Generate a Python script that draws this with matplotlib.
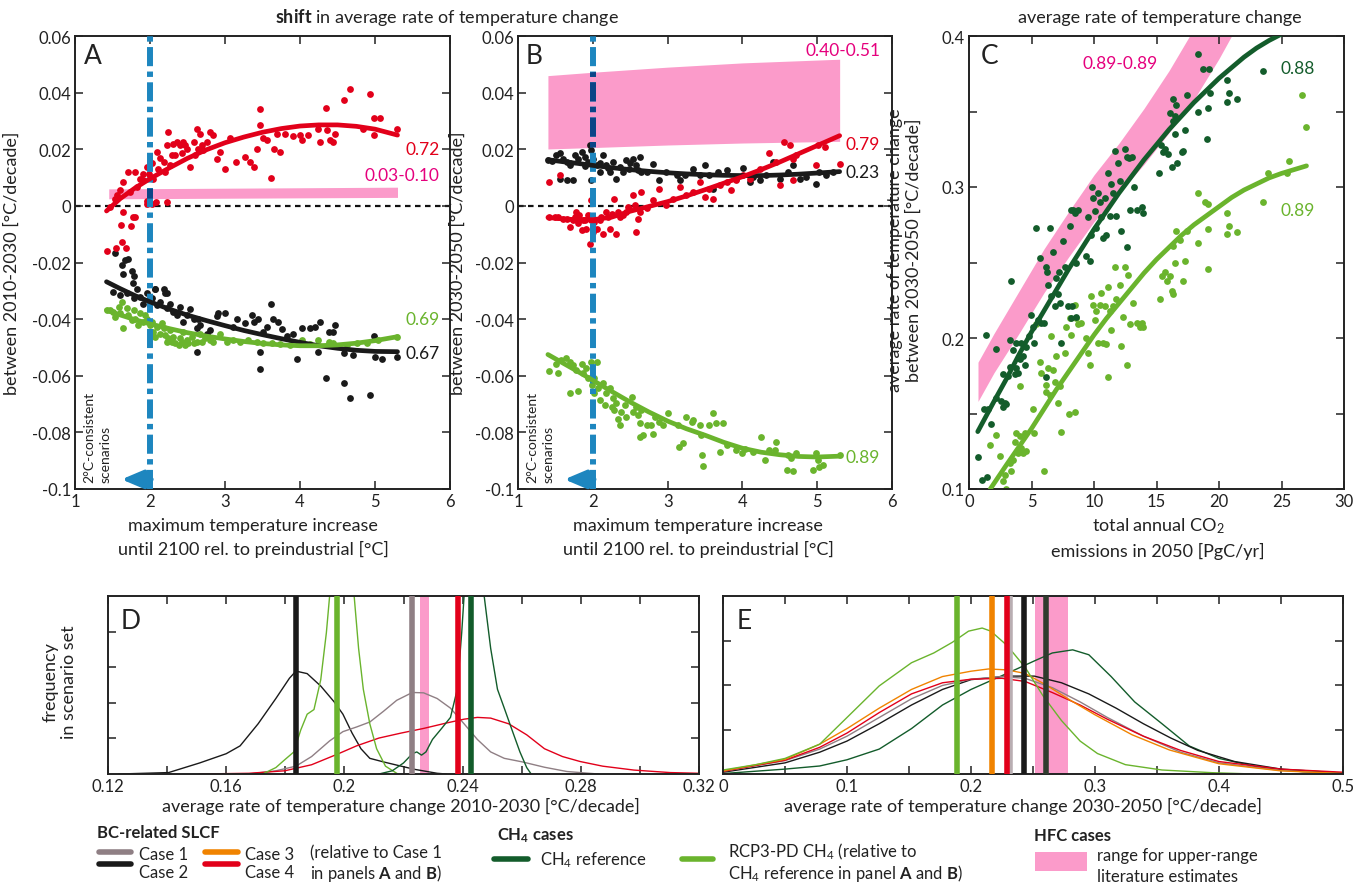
import numpy as np
import matplotlib
matplotlib.use('Agg')
import matplotlib.pyplot as plt
from matplotlib.lines import Line2D
from matplotlib.patches import Rectangle

plt.rcParams['font.family'] = ['Lato', 'DejaVu Sans']
plt.rcParams['mathtext.fontset'] = 'custom'
plt.rcParams['mathtext.rm'] = 'Lato'
plt.rcParams['mathtext.bf'] = 'Lato:bold'
plt.rcParams['mathtext.it'] = 'Lato:italic'

# ---------------- data ----------------
threshold = 2.0  # 2°C line

# Panel A scatter (x = max temperature increase, y = shift 2010-2030)
a_red = [(1.42,-0.016),(1.55,-0.0148),(1.68,-0.0148),(1.63,-0.0127),(1.61,-0.0068),(1.75,-0.0071),(1.77,-0.0039),
         (1.8,-0.0039),(1.64,-0.0021),(1.96,0.0016),(2.08,0.0012),(2.22,0.0012),(1.56,0.0038),(1.6,0.0055),
         (1.64,0.0085),(1.7,0.0118),(1.8,0.0118),(1.87,0.0096),(1.91,0.0114),(1.96,0.0138),(2.02,0.015),
         (2.09,0.019),(2.13,0.017),(2.18,0.0155),(2.22,0.0214),(2.24,0.026),(2.29,0.0179),(2.31,0.022),
         (2.36,0.0226),(2.4,0.0214),(2.44,0.0226),(2.49,0.0202),(2.53,0.0138),(2.58,0.0226),(2.62,0.0273),
         (2.67,0.0255),(2.69,0.0214),(2.76,0.0226),(2.8,0.026),(2.84,0.0249),(2.89,0.0167),(2.93,0.019),
         (3.0,0.0129),(3.07,0.0238),(3.15,0.0155),(3.27,0.0173),(3.33,0.0155),(3.38,0.0138),(3.42,0.02),
         (3.46,0.0285),(3.47,0.0341),(3.51,0.0238),(3.56,0.0232),(3.61,0.0099),(3.65,0.02),(3.73,0.019),
         (3.69,0.0255),(3.8,0.0255),(3.91,0.0247),(4.0,0.0249),(4.02,0.0232),(4.11,0.0249),(4.24,0.0273),
         (4.26,0.0224),(4.35,0.0346),(4.36,0.0267),(4.4,0.0232),(4.44,0.0226),(4.47,0.0255),(4.58,0.0373),
         (4.67,0.0412),(4.84,0.0273),(4.93,0.0394),(4.99,0.0312),(4.98,0.0249),(5.07,0.0312),(5.29,0.0273),
         (1.47,-0.0004),(1.53,0.0026),(1.73,0.0049),(1.82,0.0067),(1.91,0.009),(1.98,0.0114),(2.04,0.0096),
         (2.11,0.0132),(2.2,0.012),(2.27,0.0144),(2.33,0.0179),(2.42,0.0188),(2.47,0.0214),(2.6,0.0179),
         (2.64,0.0202),(2.71,0.0196),(1.96,0.0008),(2.02,0.0008)]
a_black = [(1.53,-0.0165),(1.62,-0.021),(1.67,-0.019),(1.71,-0.0186),(1.64,-0.0242),(1.76,-0.0231),(1.79,-0.0247),
           (1.77,-0.0274),(2.07,-0.0292),(2.22,-0.0306),(1.51,-0.0304),(1.6,-0.0315),(1.69,-0.0309),(1.78,-0.0327),
           (1.82,-0.0292),(1.87,-0.0321),(1.91,-0.0345),(1.96,-0.0309),(2.02,-0.0327),(2.07,-0.0292),(2.09,-0.0351),
           (2.13,-0.0339),(2.18,-0.0292),(2.2,-0.0309),(2.22,-0.0362),(2.27,-0.0345),(2.31,-0.0374),(2.36,-0.0386),
           (2.4,-0.0356),(2.44,-0.0409),(2.49,-0.0386),(2.53,-0.0365),(2.58,-0.0398),(2.62,-0.0433),(2.64,-0.0398),
           (2.67,-0.0421),(2.76,-0.0451),(2.62,-0.0515),(2.8,-0.0439),(2.89,-0.0388),(2.91,-0.038),(3.0,-0.0378),
           (3.11,-0.0427),(3.16,-0.0398),(3.27,-0.0415),(3.36,-0.0384),(3.38,-0.0409),(3.44,-0.0398),(3.46,-0.0515),
           (3.47,-0.0576),(3.51,-0.0445),(3.56,-0.0427),(3.61,-0.0348),(3.64,-0.0398),(3.71,-0.0409),(3.76,-0.0435),
           (3.82,-0.0459),(3.91,-0.0451),(3.96,-0.0541),(4.02,-0.0433),(4.13,-0.0433),(4.2,-0.0427),(4.26,-0.0409),
           (4.24,-0.0515),(4.35,-0.0607),(4.38,-0.0447),(4.44,-0.0445),(4.47,-0.0419),(4.58,-0.0521),(4.58,-0.0624),
           (4.66,-0.068),(4.71,-0.0525),(4.93,-0.0668),(4.98,-0.0459),(5.0,-0.0533),(5.09,-0.0541),(5.29,-0.0533)]
a_green = [(1.42,-0.0368),(1.51,-0.0374),(1.58,-0.0356),(1.62,-0.0339),(1.64,-0.0433),(1.71,-0.0386),(1.78,-0.0368),
           (1.8,-0.0398),(1.87,-0.038),(1.91,-0.0409),(1.96,-0.0398),(2.0,-0.0421),(2.04,-0.0445),(2.09,-0.0427),
           (2.13,-0.0451),(2.18,-0.0433),(2.22,-0.048),(2.27,-0.0439),(2.31,-0.0462),(2.33,-0.0486),(2.4,-0.0468),
           (2.44,-0.0445),(2.49,-0.0474),(2.56,-0.0462),(2.62,-0.048),(2.67,-0.0454),(2.73,-0.0468),(2.8,-0.0474),
           (2.93,-0.0451),(3.02,-0.048),(3.11,-0.0474),(3.2,-0.048),(3.31,-0.0474),(3.42,-0.048),(3.51,-0.0486),
           (3.62,-0.0486),(3.73,-0.0489),(3.87,-0.0492),(4.02,-0.0474),(4.13,-0.0489),(4.24,-0.0474),(4.38,-0.048),
           (4.44,-0.0486),(4.62,-0.0492),(4.76,-0.0486),(4.89,-0.0486),(5.04,-0.0474),(5.29,-0.0462),
           (1.47,-0.0368),(1.53,-0.0392),(1.6,-0.038),(1.69,-0.0362),(1.76,-0.0404),(1.84,-0.0421),(1.93,-0.0386),
           (2.02,-0.0409),(2.07,-0.0462),(2.16,-0.0415),(2.2,-0.0456),(2.24,-0.0468),(2.29,-0.048),(2.38,-0.0492),
           (2.42,-0.048),(2.47,-0.0492),(2.51,-0.0486),(2.58,-0.0486),(2.69,-0.0482),(2.84,-0.048)]

# Panel A fit curves
a_fit_red = [(1.42,-0.0018),(1.6,0.0025),(1.8,0.0063),(2.0,0.0096),(2.25,0.0133),(2.5,0.0168),(2.75,0.0198),
             (3.0,0.0223),(3.25,0.0243),(3.5,0.0260),(3.75,0.0273),(4.0,0.0282),(4.25,0.0286),(4.5,0.0286),
             (4.75,0.0281),(5.0,0.0271),(5.3,0.0250)]
a_fit_black = [(1.42,-0.0268),(1.6,-0.0292),(1.8,-0.0317),(2.0,-0.0339),(2.25,-0.0364),(2.5,-0.0386),(2.75,-0.0405),
               (3.0,-0.0423),(3.25,-0.0440),(3.5,-0.0455),(3.75,-0.0469),(4.0,-0.0482),(4.25,-0.0494),
               (4.5,-0.0503),(4.75,-0.0510),(5.0,-0.0514),(5.3,-0.0515)]
a_fit_green = [(1.42,-0.0368),(1.6,-0.0385),(1.8,-0.0402),(2.0,-0.0417),(2.25,-0.0433),(2.5,-0.0448),(2.75,-0.046),
               (3.0,-0.047),(3.25,-0.0479),(3.5,-0.0486),(3.75,-0.0491),(4.0,-0.0494),(4.25,-0.0494),(4.5,-0.0491),
               (4.75,-0.0485),(5.0,-0.0476),(5.3,-0.0462)]
a_band_x = [1.45, 5.3]
a_band_lo = [0.0025, 0.0030]
a_band_hi = [0.0060, 0.0066]

# Panel B scatter (shift 2030-2050)
b_black = [(1.4,0.0161),(1.51,0.0179),(1.56,0.0185),(1.6,0.0167),(1.65,0.0155),(1.56,0.0096),(1.65,0.0091),
           (1.74,0.0091),(1.69,0.0144),(1.76,0.0179),(1.8,0.0167),(1.85,0.0191),(1.89,0.0173),(1.94,0.0155),
           (1.96,0.0214),(1.98,0.0196),(1.97,0.0091),(2.0,0.0167),(2.05,0.0144),(2.09,0.012),(2.14,0.0179),
           (2.18,0.0144),(2.23,0.012),(2.27,0.0155),(2.31,0.0096),(2.36,0.0138),(2.4,0.012),(2.45,0.0161),
           (2.49,0.0132),(2.54,0.0167),(2.58,0.0144),(2.63,0.0173),(2.65,0.012),(2.72,0.012),(2.8,0.0149),
           (2.89,0.0091),(2.98,0.012),(3.12,0.0108),(3.16,0.0091),(3.23,0.0108),(3.34,0.0132),(3.43,0.0108),
           (3.5,0.0144),(3.56,0.0108),(3.61,0.0061),(3.67,0.012),(3.79,0.0126),(3.92,0.0096),(4.01,0.0134),
           (4.1,0.0085),(4.14,0.0102),(4.23,0.0091),(4.32,0.0108),(4.41,0.0155),(4.5,0.0096),(4.61,0.012),
           (4.68,0.0144),(4.77,0.0096),(4.85,0.0102),(4.99,0.0079),(5.03,0.012),(5.12,0.0108),(5.21,0.012),
           (1.45,0.0158),(1.7,0.0150),(1.9,0.0140),(2.1,0.0150),(2.2,0.0135),(2.5,0.0150),(2.6,0.0125)]
b_red = [(1.41,0.0085),(1.56,0.0108),(1.53,-0.0041),(1.65,-0.0045),(1.69,-0.0074),(1.76,-0.0039),(1.78,-0.0021),
         (1.8,-0.0062),(1.82,-0.0033),(1.85,-0.0086),(1.89,-0.0051),(1.91,-0.008),(1.94,-0.0033),(1.96,-0.0133),
         (1.98,0.002),(2.0,-0.0092),(2.02,-0.0056),(2.05,-0.008),(2.09,-0.0051),(2.14,-0.0098),(2.18,-0.0021),
         (2.23,-0.008),(2.25,-0.0027),(2.29,0.0026),(2.31,-0.0098),(2.36,-0.0039),(2.4,-0.0033),(2.45,-0.0021),
         (2.49,-0.0009),(2.54,0.0038),(2.58,-0.0092),(2.6,-0.0045),(2.63,-0.0021),(2.65,0.0049),(2.72,-0.0009),
         (2.8,0.002),(2.89,0.0061),(2.98,0.0002),(3.07,0.0026),(3.16,0.0067),(3.25,0.0038),(3.34,0.0049),
         (3.43,0.0085),(3.5,0.0032),(3.56,0.0061),(3.61,0.0026),(3.7,0.0073),(3.79,0.0085),(3.85,0.0055),
         (3.92,0.0091),(4.01,0.0108),(4.1,0.0096),(4.23,0.0132),(4.36,0.0185),(4.45,0.0155),(4.56,0.0226),
         (4.63,0.0214),(4.68,0.0167),(4.72,0.0179),(4.99,0.0144),(5.01,0.0214),(5.1,0.0208),(5.3,0.0149),
         (4.68,0.0091),(4.5,0.0073),(1.42,-0.0041),(1.49,-0.0039),(1.6,-0.0045),(1.74,-0.0051),(1.87,-0.0051),
         (1.98,-0.0051),(2.11,-0.0039),(2.2,-0.0039),(2.34,-0.0021),(2.47,-0.0004),(2.56,0.0002)]
b_green = [(1.41,-0.0584),(1.51,-0.0557),(1.54,-0.0592),(1.58,-0.0545),(1.64,-0.0539),(1.69,-0.0551),(1.69,-0.0662),
           (1.74,-0.0562),(1.78,-0.058),(1.8,-0.0654),(1.85,-0.056),(1.87,-0.0592),(1.91,-0.0574),(1.94,-0.0609),
           (1.97,-0.0553),(1.99,-0.0633),(2.02,-0.0609),(2.05,-0.0553),(2.02,-0.0662),(2.07,-0.0645),(2.09,-0.0686),
           (2.14,-0.0627),(2.16,-0.0704),(2.18,-0.0662),(2.23,-0.0645),(2.25,-0.071),(2.27,-0.068),(2.29,-0.0721),
           (2.31,-0.0698),(2.34,-0.0751),(2.36,-0.0774),(2.38,-0.0727),(2.43,-0.0704),(2.45,-0.0745),(2.52,-0.0674),
           (2.54,-0.0727),(2.58,-0.071),(2.6,-0.0739),(2.63,-0.0768),(2.65,-0.0721),(2.63,-0.0815),(2.67,-0.0809),
           (2.72,-0.0774),(2.78,-0.0774),(2.8,-0.0804),(2.83,-0.0745),(2.89,-0.0762),(2.94,-0.0774),(3.0,-0.0733),
           (3.14,-0.0774),(3.15,-0.0851),(3.21,-0.0839),(3.25,-0.0745),(3.32,-0.0762),(3.34,-0.0756),(3.43,-0.0774),
           (3.45,-0.0809),(3.46,-0.088),(3.47,-0.0918),(3.56,-0.0774),(3.61,-0.0733),(3.65,-0.0768),(3.7,-0.0868),
           (3.74,-0.0768),(3.79,-0.0845),(3.92,-0.0862),(3.99,-0.0874),(4.03,-0.0857),(4.14,-0.0868),(4.25,-0.0815),
           (4.3,-0.0898),(4.36,-0.0862),(4.43,-0.0862),(4.45,-0.0833),(4.59,-0.0933),(4.61,-0.088),(4.65,-0.0892),
           (4.68,-0.0937),(4.72,-0.0874),(4.94,-0.0933),(4.99,-0.0874),(5.01,-0.0898),(5.03,-0.0921),(5.08,-0.0915),
           (5.3,-0.088)]
b_fit_black = [(1.4,0.0163),(1.6,0.0156),(1.8,0.0150),(2.0,0.0143),(2.25,0.0135),(2.5,0.0128),(2.75,0.0122),
               (3.0,0.0117),(3.25,0.0113),(3.5,0.0110),(3.75,0.0108),(4.0,0.0107),(4.25,0.0107),(4.5,0.0109),
               (4.75,0.0112),(5.0,0.0116),(5.3,0.0121)]
b_fit_red = [(1.4,-0.0041),(1.6,-0.0046),(1.8,-0.0049),(2.0,-0.0049),(2.25,-0.0040),(2.5,-0.0019),(2.75,-0.0002),
             (3.0,0.0015),(3.25,0.0035),(3.5,0.0057),(3.75,0.0080),(4.0,0.0103),(4.25,0.0128),(4.5,0.0155),
             (4.75,0.0184),(5.0,0.0213),(5.3,0.0248)]
b_fit_green = [(1.4,-0.0525),(1.6,-0.0555),(1.8,-0.0585),(2.0,-0.0616),(2.25,-0.0655),(2.5,-0.0693),(2.75,-0.0728),
               (3.0,-0.0760),(3.25,-0.0787),(3.5,-0.0810),(3.75,-0.0835),(4.0,-0.0856),(4.25,-0.0870),
               (4.5,-0.0879),(4.75,-0.0885),(5.0,-0.0887),(5.3,-0.0884)]
b_band_x = [1.4, 2.0, 3.0, 4.0, 5.3]
b_band_lo = [0.0201, 0.0206, 0.0215, 0.0222, 0.0228]
b_band_hi = [0.0460, 0.0472, 0.0490, 0.0505, 0.0518]

# Panel C scatter (x = CO2 emissions 2050, y = rate 2030-2050)
c_dgreen = [(0.72,0.121),(1.07,0.106),(1.44,0.108),(1.39,0.202),(2.14,0.193),(1.2,0.153),(1.52,0.153),(1.79,0.143),
            (2.19,0.16),(2.54,0.158),(2.73,0.154),(2.86,0.157),(2.99,0.156),(2.73,0.176),(3.12,0.175),(3.26,0.181),
            (3.26,0.199),(3.39,0.238),(3.52,0.192),(3.66,0.176),(3.74,0.18),(3.92,0.177),(3.79,0.197),(4.06,0.186),
            (4.19,0.197),(4.32,0.188),(4.46,0.182),(4.59,0.194),(4.8,0.201),(4.99,0.215),(5.12,0.207),(5.18,0.197),
            (5.39,0.273),(5.52,0.212),(5.66,0.253),(5.79,0.21),(5.98,0.21),(6.14,0.174),(6.19,0.247),(6.27,0.244),
            (6.33,0.235),(6.46,0.273),(6.59,0.228),(6.73,0.257),(6.86,0.221),(6.99,0.24),(7.13,0.229),(7.21,0.244),
            (7.26,0.223),(7.34,0.197),(7.53,0.264),(7.66,0.247),(7.93,0.221),(8.06,0.274),(8.19,0.285),(8.33,0.285),
            (8.46,0.283),(8.54,0.25),(8.59,0.214),(8.19,0.213),(8.27,0.221),(8.73,0.285),(9.39,0.254),(9.53,0.28),
            (9.66,0.251),(9.79,0.268),(9.87,0.3),(9.93,0.293),(10.06,0.284),(10.19,0.273),(10.33,0.296),(10.46,0.29),
            (10.59,0.28),(10.73,0.266),(10.86,0.293),(10.99,0.268),(11.12,0.309),(11.26,0.281),(11.39,0.302),
            (11.53,0.296),(11.66,0.324),(11.79,0.281),(11.93,0.316),(12.06,0.304),(12.19,0.271),(12.46,0.325),
            (12.6,0.26),(12.65,0.32),(12.81,0.319),(12.86,0.285),(13.0,0.32),(13.18,0.3),(13.4,0.285),(13.8,0.287),
            (13.93,0.283),(15.21,0.309),(15.32,0.328),(15.53,0.323),(15.67,0.325),(15.93,0.322),(16.07,0.349),
            (16.28,0.358),(16.2,0.313),(16.33,0.344),(16.47,0.335),(16.55,0.354),(16.47,0.347),(16.65,0.316),
            (17.0,0.323),(17.13,0.324),(17.27,0.338),(17.4,0.361),(18.33,0.35),(18.33,0.388),(18.68,0.378),
            (19.06,0.332),(19.14,0.352),(19.22,0.378),(19.27,0.362),(20.6,0.371),(20.66,0.356),(20.82,0.362),
            (21.46,0.358),(23.49,0.377)]
c_lgreen = [(2.14,0.136),(1.65,0.129),(2.46,0.122),(2.73,0.105),(2.86,0.109),(2.99,0.1),(3.26,0.117),(3.39,0.112),
            (3.52,0.119),(3.66,0.131),(3.79,0.137),(3.92,0.124),(4.06,0.135),(4.06,0.168),(4.19,0.127),(4.32,0.124),
            (4.46,0.137),(4.59,0.125),(5.12,0.153),(5.18,0.137),(5.39,0.209),(5.66,0.184),(5.79,0.177),(5.98,0.112),
            (6.14,0.169),(6.19,0.164),(6.33,0.18),(6.46,0.162),(6.59,0.201),(6.73,0.179),(6.86,0.171),(6.99,0.188),
            (7.13,0.157),(7.26,0.168),(7.34,0.138),(7.66,0.19),(7.79,0.207),(8.01,0.15),(8.06,0.213),(8.19,0.202),
            (8.46,0.151),(8.46,0.222),(8.59,0.213),(8.73,0.209),(8.99,0.21),(9.39,0.2),(9.53,0.19),(9.66,0.182),
            (9.79,0.228),(9.93,0.222),(10.06,0.212),(10.19,0.218),(10.33,0.197),(10.46,0.222),(10.59,0.23),
            (10.73,0.197),(10.86,0.221),(10.99,0.196),(11.12,0.174),(11.12,0.234),(11.26,0.218),(11.39,0.205),
            (11.53,0.221),(11.66,0.247),(11.79,0.226),(12.06,0.235),(12.19,0.195),(12.33,0.214),(12.46,0.247),
            (12.6,0.182),(12.73,0.242),(12.86,0.209),(13.13,0.223),(13.4,0.21),(13.66,0.207),(13.8,0.21),
            (13.93,0.207),(15.26,0.226),(15.4,0.241),(15.67,0.244),(15.8,0.238),(16.07,0.241),(16.2,0.231),
            (16.33,0.229),(16.47,0.25),(16.28,0.261),(16.55,0.271),(16.87,0.265),(17.13,0.238),(17.27,0.251),
            (17.4,0.271),(18.33,0.296),(18.33,0.263),(18.86,0.29),(19.14,0.289),(19.14,0.246),(19.14,0.272),
            (20.6,0.283),(20.66,0.269),(20.82,0.274),(21.46,0.27),(23.49,0.29),(23.94,0.309),(25.41,0.309),
            (25.62,0.317),(26.61,0.361),(26.95,0.34)]
c_fit_dgreen = [(0.7,0.138),(2,0.158),(3,0.173),(4,0.189),(5,0.204),(6,0.218),(7,0.232),(8,0.246),(9,0.259),
                (10,0.272),(11,0.284),(12,0.296),(13,0.307),(14,0.318),(15,0.328),(16,0.338),(17,0.347),(18,0.356),
                (19,0.364),(20,0.372),(21,0.379),(22,0.386),(23,0.392),(24,0.397),(25.4,0.403)]
c_fit_lgreen = [(1.7,0.100),(3,0.116),(4,0.128),(5,0.140),(6,0.153),(7,0.166),(8,0.178),(9,0.190),(10,0.202),
                (11,0.213),(12,0.223),(13,0.233),(14,0.243),(15,0.252),(16,0.260),(17,0.268),(18,0.275),(19,0.281),
                (20,0.287),(21,0.293),(22,0.298),(23,0.302),(24,0.306),(25,0.309),(27,0.314)]
c_band_x = [0.72, 2, 4, 6, 8, 10, 12, 14, 16, 18, 20, 22]
c_band_hi = [0.184, 0.203, 0.231, 0.259, 0.284, 0.308, 0.329, 0.352, 0.377, 0.405, 0.430, 0.455]
c_band_lo = [0.158, 0.177, 0.203, 0.230, 0.254, 0.277, 0.296, 0.315, 0.336, 0.358, 0.385, 0.415]

# Panel D: distributions of rate 2010-2030
d_case2 = [(0.1238,0),(0.1405,0.04),(0.151,0.31),(0.160,0.57),(0.1647,0.79),(0.1708,1.41),(0.1768,2.12),
           (0.1814,2.69),(0.1836,2.89),(0.1874,2.82),(0.192,2.47),(0.1965,2.03),(0.1995,1.68),(0.2026,1.15),
           (0.2056,0.71),(0.2086,0.44),(0.2132,0.34),(0.2177,0.25),(0.2238,0.13),(0.2314,0.02),(0.2344,0)]
d_case1 = [(0.1677,0),(0.1768,0.09),(0.1836,0.22),(0.1889,0.49),(0.195,0.93),(0.1995,1.19),(0.2041,1.32),
           (0.2086,1.46),(0.2132,1.76),(0.2177,2.07),(0.223,2.29),(0.2268,2.28),(0.2314,2.12),(0.2359,1.85),
           (0.2405,1.41),(0.245,0.97),(0.2495,0.62),(0.2541,0.44),(0.2602,0.34),(0.2677,0.19),(0.2753,0.07),
           (0.2859,0)]
d_case4 = [(0.151,0),(0.1677,0.02),(0.1798,0.09),(0.1889,0.26),(0.198,0.57),(0.2041,0.79),(0.2117,1.01),
           (0.2192,1.15),(0.2268,1.28),(0.2344,1.43),(0.2405,1.54),(0.245,1.59),(0.2495,1.57),(0.2556,1.41),
           (0.2617,1.1),(0.2677,0.71),(0.2738,0.49),(0.2798,0.35),(0.2874,0.22),(0.298,0.11),(0.3102,0.04),
           (0.32,0.02)]
d_rcp3 = [(0.1723,0),(0.1768,0.18),(0.1798,0.4),(0.1829,0.62),(0.1852,1.23),(0.1874,1.68),(0.1897,1.81),
          (0.192,2.65),(0.1939,3.97),(0.195,5.0),(0.1965,7.5),(0.199,9.0),(0.2015,7.5),(0.2033,5.0),(0.2048,3.53),
          (0.2064,2.38),(0.2086,1.41),(0.2109,0.71),(0.2139,0.22),(0.2177,0.02)]
d_ch4ref = [(0.2117,0),(0.2162,0.09),(0.22,0.31),(0.223,0.57),(0.2245,0.62),(0.2261,0.53),(0.2276,0.62),
            (0.2298,0.97),(0.2329,1.28),(0.2359,1.59),(0.2382,2.38),(0.2397,3.97),(0.2405,5.0),(0.2435,9.0),
            (0.2473,5.0),(0.2495,3.53),(0.2518,2.38),(0.2541,1.85),(0.2571,1.15),(0.2594,0.62),(0.2617,0.18),
            (0.2632,0)]
d_means = {'case2': 0.1836, 'rcp3': 0.1976, 'case1': 0.2229, 'case4': 0.2385, 'ch4ref': 0.2427}
d_hfc = (0.2256, 0.2286)

# Panel E: distributions of rate 2030-2050
e_rcp3 = [(0,0.09),(0.0265,0.21),(0.05,0.35),(0.078,0.67),(0.1,1.27),(0.126,1.98),(0.152,2.5),(0.17,2.72),
          (0.185,2.96),(0.198,3.21),(0.209,3.28),(0.216,3.21),(0.229,2.89),(0.2436,2.4),(0.258,1.76),(0.273,1.2),
          (0.288,0.74),(0.302,0.46),(0.3245,0.21),(0.354,0.09),(0.394,0.03),(0.4275,0)]
e_case3 = [(0,0.07),(0.05,0.33),(0.078,0.67),(0.1,1.02),(0.126,1.48),(0.152,1.9),(0.177,2.19),(0.2,2.31),
           (0.214,2.36),(0.229,2.34),(0.2436,2.26),(0.26,2.01),(0.28,1.66),(0.3,1.33),(0.33,0.88),(0.36,0.54),
           (0.4,0.23),(0.45,0.07),(0.5,0.01)]
e_case2 = [(0,0.04),(0.05,0.25),(0.078,0.49),(0.1,0.74),(0.126,1.13),(0.152,1.55),(0.177,1.9),(0.2,2.12),
           (0.229,2.2),(0.251,2.2),(0.273,2.05),(0.295,1.8),(0.317,1.48),(0.339,1.13),(0.361,0.81),(0.383,0.53),
           (0.4126,0.28),(0.45,0.11),(0.5,0.02)]
e_case1 = [(0,0.06),(0.05,0.3),(0.078,0.56),(0.1,0.85),(0.126,1.27),(0.152,1.69),(0.177,1.99),(0.2,2.13),
           (0.225,2.19),(0.2436,2.15),(0.2656,1.94),(0.288,1.62),(0.31,1.27),(0.339,0.85),(0.369,0.49),(0.4,0.25),
           (0.45,0.08),(0.5,0.01)]
e_case4 = [(0,0.06),(0.05,0.31),(0.078,0.6),(0.1,0.92),(0.126,1.38),(0.152,1.8),(0.177,2.05),(0.2,2.13),
           (0.225,2.15),(0.2436,2.08),(0.2656,1.83),(0.288,1.55),(0.31,1.23),(0.339,0.85),(0.369,0.53),(0.4,0.28),
           (0.45,0.11),(0.5,0.04)]
e_ch4ref = [(0,0.01),(0.05,0.11),(0.078,0.18),(0.1,0.32),(0.126,0.56),(0.152,1.02),(0.177,1.55),(0.2,1.9),
            (0.229,2.26),(0.251,2.54),(0.2656,2.72),(0.282,2.79),(0.295,2.68),(0.313,2.19),(0.332,1.62),
            (0.354,1.13),(0.376,0.63),(0.4,0.35),(0.431,0.16),(0.468,0.05),(0.5,0.01)]
e_means = {'rcp3': 0.1886, 'case3': 0.2171, 'case4': 0.2291, 'case1': 0.2314, 'case2': 0.2429, 'ch4ref': 0.2606}
e_hfc = (0.2514, 0.2786)

# tick labels
ab_yticks = [-0.1, -0.08, -0.06, -0.04, -0.02, 0, 0.02, 0.04, 0.06]
ab_yticklabels = ['-0.1', '-0.08', '-0.06', '-0.04', '-0.02', '0', '0.02', '0.04', '0.06']
ab_xticks = [1, 2, 3, 4, 5, 6]
c_xticks = [0, 5, 10, 15, 20, 25, 30]
c_yticks = [0.1, 0.15, 0.2, 0.25, 0.3, 0.35, 0.4]
c_yticklabels = ['0.1', '', '0.2', '', '0.3', '', '0.4']
d_xticks = [0.12, 0.14, 0.16, 0.18, 0.2, 0.22, 0.24, 0.26, 0.28, 0.3, 0.32]
d_xticklabels = ['0.12', '', '0.16', '', '0.2', '', '0.24', '', '0.28', '', '0.32']
e_xticks = [0, 0.05, 0.1, 0.15, 0.2, 0.25, 0.3, 0.35, 0.4, 0.45, 0.5]
e_xticklabels = ['0', '', '0.1', '', '0.2', '', '0.3', '', '0.4', '', '0.5']

# ---------------- style ----------------
RED = '#e2001a'
BLACK = '#1a1a1a'
LGREEN = '#6ab42d'
DGREEN = '#135c2b'
EDARK = '#2f3b2e'
PINK = '#fb9bca'
MAGENTA = '#e5007d'
GREY = '#8f7f84'
ORANGE = '#f08300'
BLUE = '#1d86bf'
NAVY = '#0b4587'
TXT = '#222222'

W, H = 1368, 887
fig = plt.figure(figsize=(W / 100, H / 100), dpi=100)


def rect(l, t, r, b):
    return [l / W, 1 - b / H, (r - l) / W, (b - t) / H]


def ftext(x, y, s, **kw):
    fig.text(x / W, 1 - y / H, s, **kw)


def style(ax):
    ax.tick_params(direction='in', length=6, width=1.1, top=True, right=True,
                   labelsize=12, pad=3, colors=TXT)
    for s in ax.spines.values():
        s.set_linewidth(1.4)
        s.set_color(TXT)


def xy(pts):
    a = np.array(pts, dtype=float)
    return a[:, 0], a[:, 1]


SC = dict(s=24, linewidths=0, zorder=2)
FIT = dict(lw=3.4, solid_capstyle='round', zorder=4)
DASHDOT = (0, (3.2, 0.9, 0.9, 0.9))


def thresh_line(ax, band):
    ax.axvline(threshold, color=BLUE, lw=4.3, ls=DASHDOT, zorder=3)
    ln = ax.axvline(threshold, color=NAVY, lw=4.3, ls=DASHDOT, zorder=3.1)
    ln.set_clip_path(band.get_paths()[0], ax.transData)
    ax.text(1.11, -0.0975, '2°C-consistent\nscenarios', rotation=90, ha='left', va='bottom',
            fontsize=10, linespacing=1.45, color=TXT)
    ax.annotate('', xy=(1.62, -0.0966), xytext=(threshold + 0.02, -0.0966),
                arrowprops=dict(arrowstyle='-|>,head_length=1.3,head_width=0.55', lw=3.2,
                                color=BLUE, shrinkA=0, shrinkB=0), zorder=3)


LBL = dict(fontsize=13, color=TXT)

# ---------------- Panel A ----------------
axA = fig.add_axes(rect(75, 37, 450, 490))
style(axA)
bandA = axA.fill_between(a_band_x, a_band_lo, a_band_hi, color=PINK, lw=0, zorder=1)
axA.axhline(0, color='#111111', lw=1.6, ls=(0, (2.5, 2)), zorder=1.5)
for pts, c in ((a_black, BLACK), (a_green, LGREEN), (a_red, RED)):
    x, y = xy(pts)
    axA.scatter(x, y, color=c, **SC)
thresh_line(axA, bandA)
for pts, c in ((a_fit_black, BLACK), (a_fit_green, LGREEN), (a_fit_red, RED)):
    x, y = xy(pts)
    axA.plot(x, y, color=c, **FIT)
axA.set_xlim(1, 6)
axA.set_ylim(-0.1, 0.06)
axA.set_xticks(ab_xticks)
axA.set_yticks(ab_yticks)
axA.set_yticklabels(ab_yticklabels)
axA.set_ylabel('between 2010-2030 [°C/decade]', **LBL)
axA.yaxis.set_label_coords(-0.148, 0.5)
axA.text(0.048, 0.956, 'A', transform=axA.transAxes, fontsize=19, ha='center', va='center', color=TXT)
kw = dict(ha='right', va='center', fontsize=12.5)
axA.text(5.86, 0.0200, '0.72', color=RED, **kw)
axA.text(5.86, 0.0108, '0.03-0.10', color=MAGENTA, **kw)
axA.text(5.86, -0.0400, '0.69', color=LGREEN, **kw)
axA.text(5.86, -0.0518, '0.67', color=BLACK, **kw)

# ---------------- Panel B ----------------
axB = fig.add_axes(rect(518, 37, 892, 490))
style(axB)
bandB = axB.fill_between(b_band_x, b_band_lo, b_band_hi, color=PINK, lw=0, zorder=1)
axB.axhline(0, color='#111111', lw=1.6, ls=(0, (2.5, 2)), zorder=1.5)
for pts, c in ((b_green, LGREEN), (b_black, BLACK), (b_red, RED)):
    x, y = xy(pts)
    axB.scatter(x, y, color=c, **SC)
thresh_line(axB, bandB)
for pts, c in ((b_fit_green, LGREEN), (b_fit_black, BLACK), (b_fit_red, RED)):
    x, y = xy(pts)
    axB.plot(x, y, color=c, **FIT)
axB.set_xlim(1, 6)
axB.set_ylim(-0.1, 0.06)
axB.set_xticks(ab_xticks)
axB.set_yticks(ab_yticks)
axB.set_yticklabels(ab_yticklabels)
axB.set_ylabel('between 2030-2050 [°C/decade]', **LBL)
axB.yaxis.set_label_coords(-0.139, 0.5)
axB.text(0.042, 0.956, 'B', transform=axB.transAxes, fontsize=19, ha='center', va='center', color=TXT)
axB.text(5.84, 0.0552, '0.40-0.51', color=MAGENTA, **kw)
axB.text(5.84, 0.0218, '0.79', color=RED, **kw)
axB.text(5.84, 0.0118, '0.23', color=BLACK, **kw)
axB.text(5.84, -0.0888, '0.89', color=LGREEN, **kw)

# ---------------- Panel C ----------------
axC = fig.add_axes(rect(969, 37, 1344, 490))
style(axC)
axC.fill_between(c_band_x, c_band_lo, c_band_hi, color=PINK, lw=0, zorder=1)
for pts, c in ((c_lgreen, LGREEN), (c_dgreen, DGREEN)):
    x, y = xy(pts)
    axC.scatter(x, y, color=c, **SC)
for pts, c in ((c_fit_lgreen, LGREEN), (c_fit_dgreen, DGREEN)):
    x, y = xy(pts)
    axC.plot(x, y, color=c, **FIT)
axC.set_xlim(0, 30)
axC.set_ylim(0.1, 0.4)
axC.set_xticks(c_xticks)
axC.set_yticks(c_yticks)
axC.set_yticklabels(c_yticklabels)
axC.set_ylabel('average rate of temperature change\nbetween 2030-2050 [°C/decade]', linespacing=1.2, **LBL)
axC.yaxis.set_label_coords(-0.127, 0.53)
axC.text(0.055, 0.956, 'C', transform=axC.transAxes, fontsize=19, ha='center', va='center', color=TXT)
axC.text(12.1, 0.382, '0.89-0.89', color=MAGENTA, ha='center', va='center', fontsize=12.5)
axC.text(26.3, 0.379, '0.88', color=DGREEN, ha='center', va='center', fontsize=12.5)
axC.text(26.3, 0.285, '0.89', color=LGREEN, ha='center', va='center', fontsize=12.5)

# x labels and titles for top row
for cx in (253, 698):
    ftext(cx, 538, 'maximum temperature increase\nuntil 2100 rel. to preindustrial [°C]',
          ha='center', va='center', linespacing=1.5, **LBL)
ftext(1158, 538, 'total annual CO$_2$\nemissions in 2050 [PgC/yr]', ha='center', va='center',
      linespacing=1.5, **LBL)
ftext(447, 18, r'$\mathbf{shift}$ in average rate of temperature change', ha='center', va='center', **LBL)
ftext(1160, 18, 'average rate of temperature change', ha='center', va='center', **LBL)

# ---------------- Panel D ----------------
axD = fig.add_axes(rect(108, 597, 699, 775))
style(axD)
axD.axvspan(d_hfc[0], d_hfc[1], color=PINK, lw=0, zorder=1)
for pts, c in ((d_case2, BLACK), (d_case1, GREY), (d_case4, RED), (d_rcp3, LGREEN), (d_ch4ref, DGREEN)):
    x, y = xy(pts)
    axD.plot(x, y, color=c, lw=1.0, zorder=2)
for key, c in (('case2', BLACK), ('rcp3', LGREEN), ('case1', GREY), ('case4', RED), ('ch4ref', DGREEN)):
    axD.axvline(d_means[key], color=c, lw=4, zorder=3)
axD.set_xlim(0.12, 0.32)
axD.set_ylim(0, 5)
axD.set_xticks(d_xticks)
axD.set_xticklabels(d_xticklabels)
axD.set_yticks([1, 2, 3, 4])
axD.set_yticklabels([])
axD.set_xlabel('average rate of temperature change 2010-2030 [°C/decade]', **LBL)
axD.xaxis.set_label_coords(0.495, -0.13)
axD.set_ylabel('frequency\nin scenario set', linespacing=1.2, **LBL)
axD.yaxis.set_label_coords(-0.052, 0.52)
axD.text(0.039, 0.86, 'D', transform=axD.transAxes, fontsize=19, ha='center', va='center', color=TXT)

# ---------------- Panel E ----------------
axE = fig.add_axes(rect(723, 597, 1343, 775))
style(axE)
axE.axvspan(e_hfc[0], e_hfc[1], color=PINK, lw=0, zorder=1)
for pts, c in ((e_ch4ref, DGREEN), (e_case2, BLACK), (e_case1, GREY), (e_case4, RED), (e_case3, ORANGE),
               (e_rcp3, LGREEN)):
    x, y = xy(pts)
    axE.plot(x, y, color=c, lw=1.0, zorder=2)
for key, c in (('rcp3', LGREEN), ('case3', ORANGE), ('case1', '#b9aeb2'), ('case4', RED), ('case2', BLACK),
               ('ch4ref', EDARK)):
    axE.axvline(e_means[key], color=c, lw=4, zorder=3)
axE.set_xlim(0, 0.5)
axE.set_ylim(0, 4)
axE.set_xticks(e_xticks)
axE.set_xticklabels(e_xticklabels)
axE.set_yticks([1, 2, 3])
axE.set_yticklabels([])
axE.set_xlabel('average rate of temperature change 2030-2050 [°C/decade]', **LBL)
axE.xaxis.set_label_coords(0.484, -0.13)
axE.text(0.034, 0.86, 'E', transform=axE.transAxes, fontsize=19, ha='center', va='center', color=TXT)

# ---------------- legend ----------------
LKW = dict(fontsize=12, va='center', color=TXT)
BKW = dict(fontsize=12, va='center', color=TXT, fontweight='bold')


def lline(x0, x1, y, c):
    fig.add_artist(Line2D([x0 / W, x1 / W], [1 - y / H, 1 - y / H], color=c, lw=4,
                          solid_capstyle='round', transform=fig.transFigure))


ftext(97, 833, 'BC-related SLCF', **BKW)
lline(99, 131, 853, GREY)
lline(99, 131, 865, BLACK)
ftext(139, 855, 'Case 1', **LKW)
ftext(139, 873, 'Case 2', **LKW)
lline(205, 238, 853, ORANGE)
lline(205, 238, 865, RED)
ftext(245, 855, 'Case 3', **LKW)
ftext(245, 873, 'Case 4', **LKW)
ftext(310, 853, '(relative to Case 1', **LKW)
ftext(310, 874, r'in panels $\mathbf{A}$ and $\mathbf{B}$)', **LKW)

ftext(497, 836, r'$\mathbf{CH_4}$ $\mathbf{cases}$', **LKW)
lline(494, 528, 860, DGREEN)
ftext(540, 860, 'CH$_4$ reference', **LKW)
lline(682, 713, 860, LGREEN)
ftext(728, 852, 'RCP3-PD CH$_4$ (relative to', **LKW)
ftext(728, 874, r'CH$_4$ reference in panel $\mathbf{A}$ and $\mathbf{B}$)', **LKW)

ftext(1034, 836, 'HFC cases', **BKW)
fig.add_artist(Rectangle((1035 / W, 1 - 872 / H), 52 / W, 19 / H, color=PINK, lw=0,
                         transform=fig.transFigure))
ftext(1097, 856, 'range for upper-range', **LKW)
ftext(1097, 877, 'literature estimates', **LKW)

fig.savefig('out.png', dpi=100)
